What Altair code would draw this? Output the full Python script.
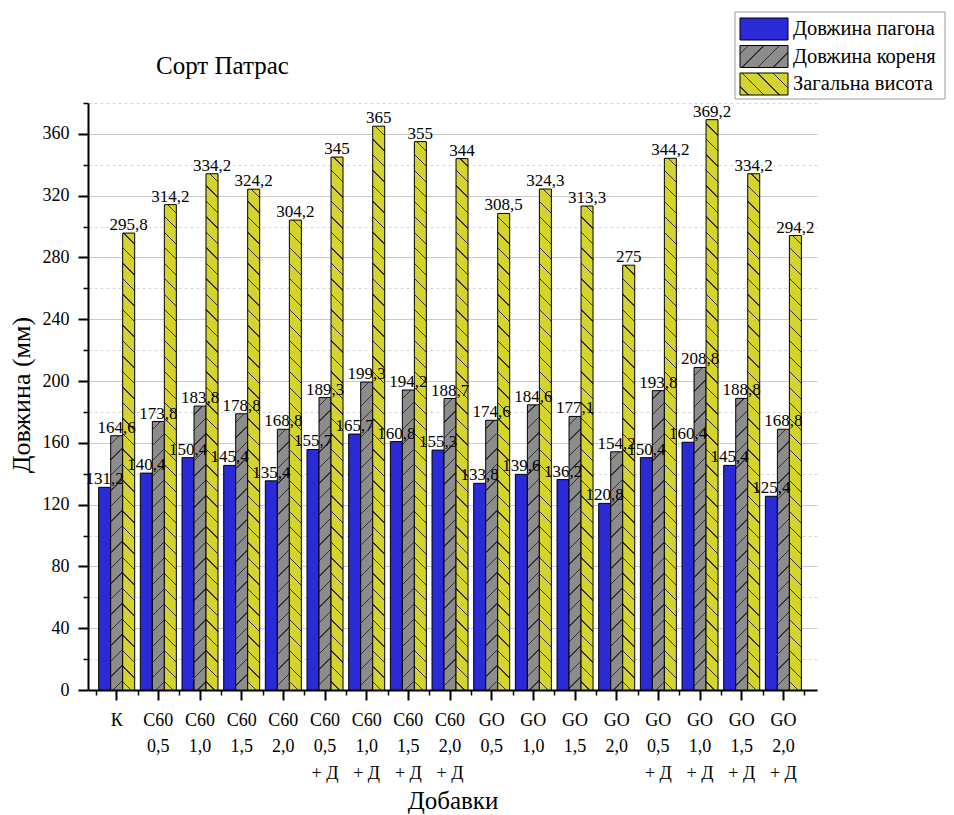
import altair as alt

# ---------------- data ----------------
categories = ["К", "C60\n0,5", "C60\n1,0", "C60\n1,5", "C60\n2,0",
              "C60\n0,5\n+ Д", "C60\n1,0\n+ Д", "C60\n1,5\n+ Д", "C60\n2,0\n+ Д",
              "GO\n0,5", "GO\n1,0", "GO\n1,5", "GO\n2,0",
              "GO\n0,5\n+ Д", "GO\n1,0\n+ Д", "GO\n1,5\n+ Д", "GO\n2,0\n+ Д"]
series = ["Довжина пагона", "Довжина кореня", "Загальна висота"]
shoot_len = [131.2, 140.4, 150.4, 145.4, 135.4, 155.7, 165.7, 160.8, 155.3,
             133.8, 139.6, 136.2, 120.8, 150.4, 160.4, 145.4, 125.4]
root_len = [164.6, 173.8, 183.8, 178.8, 168.8, 189.3, 199.3, 194.2, 188.7,
            174.6, 184.6, 177.1, 154.2, 193.8, 208.8, 188.8, 168.8]
total_height = [295.8, 314.2, 334.2, 324.2, 304.2, 345, 365, 355, 344,
                308.5, 324.3, 313.3, 275, 344.2, 369.2, 334.2, 294.2]
y_major = list(range(0, 361, 40))
y_minor = list(range(20, 381, 40))
chart_title = "Сорт Патрас"
x_title = "Добавки"
y_title = "Довжина (мм)"

# ---------------- style ----------------
FONT = "Liberation Serif"
W, H = 729, 587
Y_MAX = 380
X_PAD_OUTER, X_ALIGN = 0.2475, 0.38
OFF_PAD_OUTER = 0.236
COLORS = ["#2a2ad6", "#8c8c8c", "#d4d42c"]
HATCH = [None, "/", "\\"]
HATCH_COLOR = "#333333"
HATCH_STEP = 15.5
HATCH_LINE = 1.35

step_x = W / (len(categories) + 2 * X_PAD_OUTER)
bar_w = step_x / (len(series) + 2 * OFF_PAD_OUTER)
px_per_unit = H / Y_MAX


def hatch_fill(base, kind, w, h):
    """Linear-gradient with hard stops that imitates a diagonal hatch."""
    if kind is None:
        return base
    S = w + h
    k = S / (w * w + h * h)
    if kind == "/":
        x1, y1, x2, y2 = 0, 0, w * k, h * k
    else:
        x1, y1, x2, y2 = 0, 1, w * k, 1 - h * k
    stops = [{"offset": 0, "color": base}]
    pos = HATCH_STEP * 0.5
    while pos < S:
        a = round(pos / S, 5)
        b = round(min((pos + HATCH_LINE) / S, 1), 5)
        stops += [{"offset": a, "color": base}, {"offset": a, "color": HATCH_COLOR},
                  {"offset": b, "color": HATCH_COLOR}, {"offset": b, "color": base}]
        pos += HATCH_STEP
    stops.append({"offset": 1, "color": base})
    return {"gradient": "linear", "x1": round(x1, 6), "y1": round(y1, 6),
            "x2": round(x2, 6), "y2": round(y2, 6), "stops": stops}


records = []
for i, cat in enumerate(categories):
    for j, vals in enumerate([shoot_len, root_len, total_height]):
        v = vals[i]
        records.append({
            "cat": cat, "series": series[j], "value": v,
            "label": f"{v:g}".replace(".", ","),
            "grad": hatch_fill(COLORS[j], HATCH[j], bar_w, v * px_per_unit),
        })
data = alt.Data(values=records)

x_scale = alt.Scale(paddingInner=0, paddingOuter=X_PAD_OUTER, align=X_ALIGN)
off_scale = alt.Scale(paddingInner=0, paddingOuter=OFF_PAD_OUTER)
y_scale = alt.Scale(domain=[0, Y_MAX], nice=False, zero=True)

x_main_axis = alt.Axis(orient="bottom", title=x_title, labelExpr="split(datum.label, '\\n')",
                       labelFont=FONT, labelFontSize=18, labelColor="black", labelPadding=11,
                       labelLineHeight=26.5, labelAngle=0, tickSize=10, tickWidth=2,
                       tickColor="black", domainColor="black", domainWidth=2,
                       titleFont=FONT, titleFontSize=25, titleFontWeight="normal",
                       titleColor="black", titleX=W / 2, titleY=118,
                       titleBaseline="alphabetic", titleAlign="center", grid=False)
x_minor_axis = alt.Axis(orient="bottom", title=None, labels=False, domain=False,
                        tickBand="extent", tickSize=5, tickWidth=1.5, tickColor="black",
                        grid=False)
y_main_axis = alt.Axis(orient="left", title=y_title, values=y_major, labelFont=FONT,
                       labelFontSize=18, labelColor="black", labelPadding=9, tickSize=10,
                       tickWidth=2, tickColor="black", domainColor="black", domainWidth=2,
                       grid=True, gridColor="#cbcbcb", gridWidth=1,
                       titleFont=FONT, titleFontSize=26, titleFontWeight="normal",
                       titleColor="black", titleAngle=270, titleX=-59, titleY=H / 2 - 2,
                       titleBaseline="alphabetic", titleAlign="center")
y_minor_axis = alt.Axis(orient="left", title=None, values=y_minor, labels=False,
                        domain=False, tickSize=5, tickWidth=1.5, tickColor="black",
                        grid=True, gridColor="#d6d6d6", gridDash=[3, 3], gridWidth=1)

bars = alt.Chart(data).mark_bar(stroke="black", strokeWidth=1).encode(
    x=alt.X("cat:N", sort=categories, scale=x_scale, axis=x_main_axis),
    xOffset=alt.XOffset("series:N", sort=series, scale=off_scale),
    y=alt.Y("value:Q", scale=y_scale, axis=y_main_axis),
    fill=alt.Fill("grad:N", scale=None, legend=None),
)

labels = alt.Chart(data).mark_text(font=FONT, fontSize=17, color="black",
                                   baseline="alphabetic", dy=-3).encode(
    x=alt.X("cat:N", sort=categories, scale=x_scale, axis=x_minor_axis),
    xOffset=alt.XOffset("series:N", sort=series, scale=off_scale),
    y=alt.Y("value:Q", scale=y_scale, axis=y_minor_axis),
    text="label:N",
)

one = alt.Data(values=[{"k": 1}])

title_layer = alt.Chart(one).mark_text(font=FONT, fontSize=25, color="black",
                                       align="left", baseline="alphabetic").encode(
    x=alt.value(68), y=alt.value(-29), text=alt.value(chart_title))

# legend (box, hatched swatches, names)
LX0, LX1, LY0, LY1 = 647, 857, -91, -4
SW_X, SW_W, SW_H = 652, 48, 22
SW_TOPS = [-85, -57.5, -30]
legend_layers = [
    alt.Chart(one).mark_rect(fill="white", stroke="#9a9a9a", strokeWidth=1).encode(
        x=alt.value(LX0), x2=alt.value(LX1), y=alt.value(LY0), y2=alt.value(LY1))
]
for j, name in enumerate(series):
    top = SW_TOPS[j]
    legend_layers.append(
        alt.Chart(one).mark_rect(stroke="black", strokeWidth=1,
                                 fill=hatch_fill(COLORS[j], HATCH[j], SW_W, SW_H)).encode(
            x=alt.value(SW_X), x2=alt.value(SW_X + SW_W),
            y=alt.value(top), y2=alt.value(top + SW_H)))
    legend_layers.append(
        alt.Chart(one).mark_text(font=FONT, fontSize=20.5, color="black", align="left",
                                 baseline="middle").encode(
            x=alt.value(SW_X + SW_W + 5), y=alt.value(top + SW_H / 2),
            text=alt.value(name)))

chart = alt.layer(bars, labels, title_layer, *legend_layers).resolve_axis(
    x="independent", y="independent"
).properties(
    width=W, height=H,
    autosize=alt.AutoSizeParams(type="none"),
    padding={"left": 80, "top": 95, "right": 129, "bottom": 126},
).configure_view(stroke=None)

chart.save("out.html", embed_options={"renderer": "svg", "actions": False})
